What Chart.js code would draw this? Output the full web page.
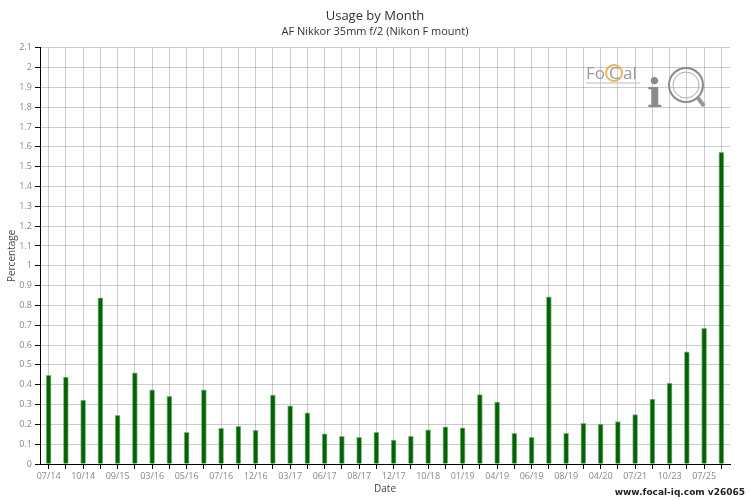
<!DOCTYPE html>
<html>
<head>
<meta charset="utf-8">
<script src="https://cdn.jsdelivr.net/npm/chart.js@4.4.1/dist/chart.umd.min.js"></script>
<style>
  body { margin: 0; background: #fff; }
  #wrap { width: 750px; height: 500px; }
</style>
</head>
<body>
<div id="wrap"><canvas id="usageChart" width="750" height="500"></canvas></div>
<script>
// months with data (every other one is labelled on the axis)
const months = [
  "07/14", "08/14", "10/14", "12/14", "09/15", "12/15", "03/16", "04/16",
  "05/16", "06/16", "07/16", "10/16", "12/16", "01/17", "03/17", "04/17",
  "06/17", "07/17", "08/17", "10/17", "12/17", "03/18", "10/18", "12/18",
  "01/19", "02/19", "04/19", "05/19", "06/19", "07/19", "08/19", "12/19",
  "04/20", "10/20", "07/21", "06/22", "10/23", "05/24", "07/25", "10/25",
];

// percentage of shots per month
const usage = [
  0.448, 0.439, 0.322, 0.838, 0.246, 0.46, 0.374, 0.342,
  0.16, 0.374, 0.18, 0.19, 0.17, 0.348, 0.293, 0.258,
  0.152, 0.14, 0.135, 0.16, 0.121, 0.14, 0.172, 0.187,
  0.183, 0.35, 0.312, 0.155, 0.135, 0.843, 0.155, 0.205,
  0.2, 0.214, 0.249, 0.328, 0.408, 0.566, 0.685, 1.572,
];

const yMax = 2.1;
const yStep = 0.1;

const GRID = "rgba(0,0,0,0.2)";
const TICK_TEXT = "#888";

Chart.defaults.font.family = "'Open Sans', sans-serif";

// logo + site stamp
const decorPlugin = {
  id: "decor",
  afterDraw(chart) {
    const ctx = chart.ctx;
    ctx.save();
    // FoCal
    ctx.fillStyle = "#9a9a9a";
    ctx.font = "17px 'Open Sans', sans-serif";
    ctx.textBaseline = "alphabetic";
    ctx.textAlign = "left";
    ctx.fillText("Fo", 586, 79);
    ctx.strokeStyle = "#f0b060";
    ctx.lineWidth = 2;
    ctx.beginPath();
    ctx.arc(614, 73, 8, 0, Math.PI * 2);
    ctx.stroke();
    ctx.fillText("C", 609, 79);
    ctx.fillText("al", 623, 79);
    ctx.strokeStyle = "#bbb";
    ctx.lineWidth = 1;
    ctx.beginPath();
    ctx.moveTo(586, 83);
    ctx.lineTo(640, 83);
    ctx.stroke();
    // iQ
    ctx.fillStyle = "#8a8a8a";
    ctx.font = "bold 40px 'DejaVu Serif', serif";
    ctx.fillText("i", 647, 107);
    ctx.strokeStyle = "#8a8a8a";
    ctx.lineWidth = 2;
    ctx.beginPath();
    ctx.arc(686, 85, 17, 0, Math.PI * 2);
    ctx.stroke();
    ctx.lineWidth = 1;
    ctx.strokeStyle = "#aaa";
    ctx.beginPath();
    ctx.arc(686, 85, 13, 0, Math.PI * 2);
    ctx.stroke();
    ctx.lineWidth = 4;
    ctx.strokeStyle = "#999";
    ctx.beginPath();
    ctx.moveTo(698, 98);
    ctx.lineTo(704, 106);
    ctx.stroke();
    // stamp
    ctx.fillStyle = "#222";
    ctx.font = "bold 9px 'DejaVu Sans', sans-serif";
    ctx.textAlign = "right";
    ctx.textBaseline = "middle";
    ctx.fillText("www.focal-iq.com v26065", 745, 493);
    ctx.restore();
  },
};

new Chart(document.getElementById("usageChart"), {
  type: "bar",
  data: {
    labels: months,
    datasets: [
      {
        label: "Percentage",
        data: usage,
        backgroundColor: "#006400",
        borderColor: "rgba(0,100,0,0.45)",
        borderWidth: 1,
        borderSkipped: "start",
        barThickness: 5,
      },
    ],
  },
  options: {
    responsive: false,
    animation: false,
    layout: { padding: 0 },
    plugins: {
      legend: { display: false },
      tooltip: { enabled: false },
      title: {
        display: true,
        text: "Usage by Month",
        color: "#333",
        font: { size: 13, weight: "normal" },
        padding: { top: 8, bottom: 2 },
      },
      subtitle: {
        display: true,
        text: "AF Nikkor 35mm f/2 (Nikon F mount)",
        color: "#333",
        font: { size: 11 },
        padding: { top: 0, bottom: 9 },
      },
    },
    scales: {
      x: {
        offset: true,
        grid: {
          offset: false,
          color: GRID,
          tickColor: "#000",
          tickLength: 5,
        },
        border: { color: "#000", width: 1 },
        ticks: {
          autoSkip: false,
          maxRotation: 0,
          padding: 2,
          color: TICK_TEXT,
          font: { size: 9 },
          callback(value, index) {
            return index % 2 === 0 ? this.getLabelForValue(value) : "";
          },
        },
        title: {
          display: true,
          text: "Date",
          color: "#444",
          font: { size: 10 },
          padding: { top: 0, bottom: 5 },
        },
        afterFit(scale) {
          scale.height = 36;
        },
      },
      y: {
        min: 0,
        max: yMax,
        grid: {
          color: GRID,
          tickColor: "#000",
          tickLength: 5,
        },
        border: { color: "#000", width: 1 },
        ticks: {
          stepSize: yStep,
          padding: 3,
          color: TICK_TEXT,
          font: { size: 9 },
          callback: v => Math.round(v * 10) / 10,
        },
        title: {
          display: true,
          text: "Percentage",
          color: "#444",
          font: { size: 10 },
          padding: { top: 6, bottom: 0 },
        },
        afterFit(scale) {
          scale.width = 40;
        },
      },
      // empty strip on the right so the titles stay centred on the page
      yRight: {
        position: "right",
        min: 0,
        max: yMax,
        grid: { display: false, drawTicks: false },
        border: { display: false },
        ticks: { display: false },
        afterFit(scale) {
          scale.width = 20;
        },
      },
    },
  },
  plugins: [decorPlugin],
});
</script>
</body>
</html>
